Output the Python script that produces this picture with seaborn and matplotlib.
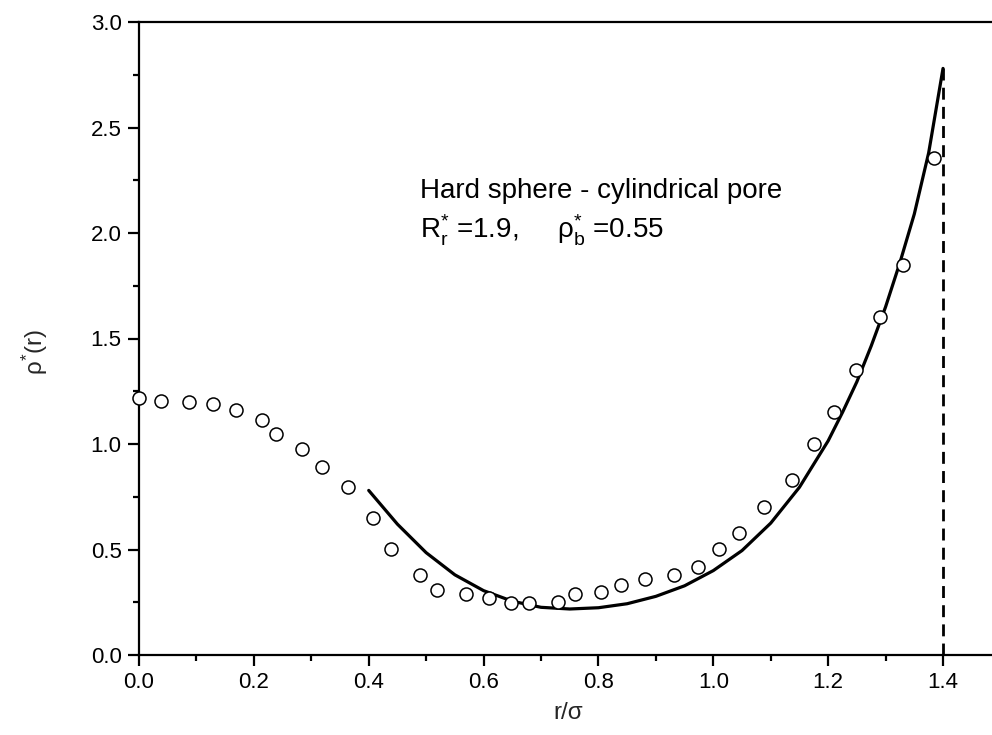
import numpy as np
import pandas as pd
import matplotlib
matplotlib.use("Agg")
import matplotlib.pyplot as plt
import seaborn as sns

# Simulation points (open circles)
sim_r = [0.000, 0.038, 0.087, 0.129, 0.169, 0.214, 0.239, 0.284, 0.319, 0.364,
         0.407, 0.439, 0.489, 0.519, 0.569, 0.609, 0.648, 0.679, 0.730, 0.759,
         0.804, 0.839, 0.881, 0.932, 0.973, 1.010, 1.045, 1.088, 1.137, 1.175,
         1.210, 1.249, 1.290, 1.330, 1.384]
sim_rho = [1.218, 1.204, 1.199, 1.190, 1.161, 1.114, 1.047, 0.976, 0.891, 0.796,
           0.649, 0.502, 0.378, 0.308, 0.290, 0.270, 0.246, 0.246, 0.251, 0.289,
           0.299, 0.332, 0.360, 0.379, 0.417, 0.502, 0.578, 0.700, 0.829, 1.000,
           1.152, 1.351, 1.602, 1.848, 2.355]

# Theory curve (solid line)
th_r = [0.40, 0.45, 0.50, 0.55, 0.60, 0.65, 0.70, 0.75, 0.80, 0.85, 0.90, 0.95,
        1.00, 1.05, 1.10, 1.15, 1.20, 1.225, 1.25, 1.275, 1.30, 1.325, 1.35,
        1.375, 1.40]
th_rho = [0.78, 0.62, 0.485, 0.38, 0.305, 0.255, 0.226, 0.218, 0.224, 0.243, 0.278,
          0.328, 0.400, 0.495, 0.625, 0.795, 1.015, 1.150, 1.295, 1.465, 1.650,
          1.860, 2.090, 2.380, 2.780]

# Wall position (dashed)
wall_r = [1.4, 1.4]
wall_rho = [0.0, 2.78]

sns.set_theme(style="ticks")
plt.rcParams["font.family"] = ["Liberation Sans", "DejaVu Sans"]
plt.rcParams["mathtext.fontset"] = "custom"
plt.rcParams["mathtext.rm"] = "Liberation Sans"
plt.rcParams["mathtext.it"] = "Liberation Sans"
plt.rcParams["mathtext.default"] = "regular"

fig = plt.figure(figsize=(9.92, 7.35), dpi=100)
ax = fig.add_axes([139 / 992, 80 / 735, 1 - 139 / 992, (655 - 22) / 735])

sim_df = pd.DataFrame({"r": sim_r, "rho": sim_rho})
th_df = pd.DataFrame({"r": th_r, "rho": th_rho})
wall_df = pd.DataFrame({"r": wall_r, "rho": wall_rho})

sns.lineplot(data=th_df, x="r", y="rho", ax=ax, color="black", lw=2.3,
             sort=False, estimator=None)
sns.lineplot(data=wall_df, x="r", y="rho", ax=ax, color="black", lw=2.0,
             sort=False, estimator=None, linestyle=(0, (4.3, 2.6)))
sns.scatterplot(data=sim_df, x="r", y="rho", ax=ax, marker="o", s=88,
                facecolor="white", edgecolor="black", linewidth=1.1, zorder=5,
                clip_on=False)

ax.set_xlim(0, (992 - 139) / 574.3)
ax.set_ylim(0, 3.0)
ax.set_xticks(np.arange(0, 1.41, 0.2))
ax.set_xticks(np.arange(0.1, 1.45, 0.2), minor=True)
ax.set_yticks(np.arange(0, 3.01, 0.5))
ax.set_yticks(np.arange(0.25, 3.0, 0.5), minor=True)
ax.xaxis.set_major_formatter(matplotlib.ticker.FormatStrFormatter("%.1f"))
ax.yaxis.set_major_formatter(matplotlib.ticker.FormatStrFormatter("%.1f"))

for s in ["left", "bottom", "top"]:
    ax.spines[s].set_linewidth(1.6)
    ax.spines[s].set_color("black")
ax.spines["right"].set_visible(False)

ax.tick_params(axis="both", which="major", direction="out", length=8, width=1.6,
               labelsize=16, pad=4.5, colors="black")
ax.tick_params(axis="both", which="minor", direction="out", length=4.5, width=1.6,
               colors="black")
ax.tick_params(top=False, right=False)

ax.set_xlabel("r/σ", fontsize=17.5)
ax.set_ylabel("ρ$^{*}$(r)", fontsize=17.5)
ax.xaxis.set_label_coords(0.503, -0.074)
ax.yaxis.set_label_coords(-0.104, 0.478)

ax.text(0.489, 2.166, "Hard sphere - cylindrical pore", fontsize=20, color="black")
ax.text(0.489, 1.976, r"R$^{*}_{r}$ =1.9,     ρ$^{*}_{b}$ =0.55",
        fontsize=20, color="black")

fig.savefig("out.png", dpi=100)
